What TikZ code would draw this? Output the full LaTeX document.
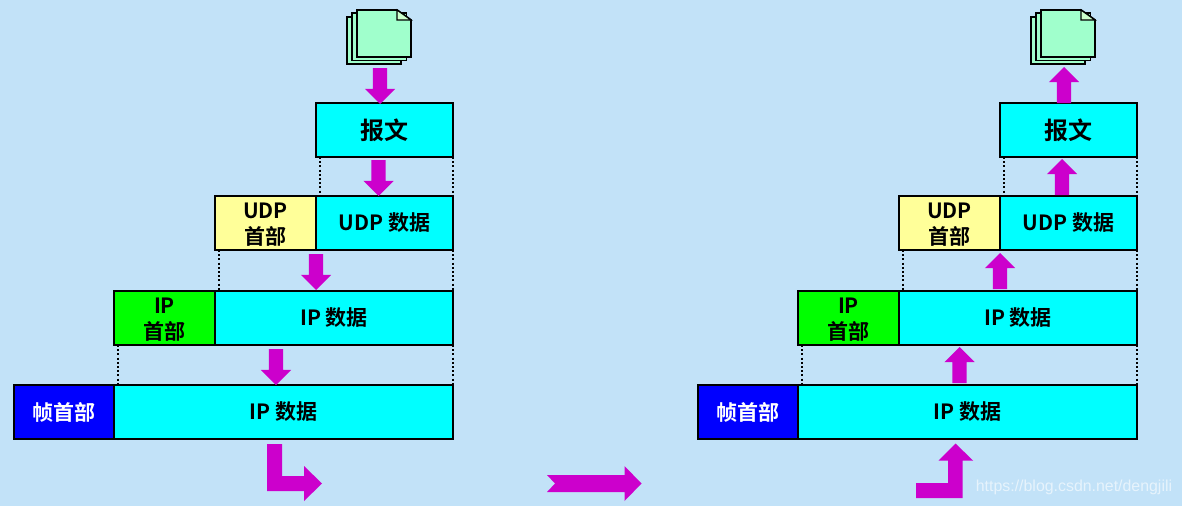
\documentclass[tikz,border=0pt]{standalone}
\usepackage{fontspec}
\setmainfont{Noto Sans CJK SC}[BoldFont={* Bold}]
\usetikzlibrary{shapes.arrows}
\definecolor{sky}{HTML}{C2E2F8}
\definecolor{pipe}{HTML}{CC00CC}
\definecolor{sheet}{HTML}{A0FFCC}
\definecolor{foldc}{HTML}{CCFFCC}
\definecolor{udpc}{HTML}{FFFF99}
\definecolor{aqua}{HTML}{00FFFF}
\tikzset{
  cell/.style={draw=black, line width=2pt, outer sep=0pt, inner sep=0pt, anchor=north west, align=center, font=\fontsize{21}{25}\selectfont\bfseries},
  data/.style={cell, fill=aqua},
  guide/.style={line width=2pt, dash pattern=on 2pt off 2.2pt},
  flow/.style={shape=single arrow, fill=pipe, inner xsep=0pt, inner ysep=7pt, outer sep=0pt, anchor=tip, minimum height=36pt, single arrow head extend=8pt},
  page/.style={draw=black, line width=1.8pt, fill=sheet, line join=miter},
}
\begin{document}
\begin{tikzpicture}[x=1pt,y=-1pt]
\useasboundingbox (0,0) rectangle (1182,506);
\fill[sky] (0,0) rectangle (1182,506);

% the two protocol stacks, same layout on each side
\foreach \s/\dx in {l/0,r/684}
    {
    \begin{scope}[xshift=\dx pt]
    \draw[page] (347,17) rectangle (401,64);
    \draw[page] (352,13) rectangle (406.5,60.5);
    \draw[page] (357,10) -- (397,10) -- (411,20) -- (411,57) -- (357,57) -- cycle;
    \draw[page, fill=foldc, line width=1.2pt] (397,10) -- (397,20) -- (411,20) -- cycle;

    \node (msg\s) at (316,103) [data, minimum width=137pt, minimum height=54pt, font=\fontsize{24}{28}\selectfont\bfseries] {报文};
    \node (udphead\s) at (215,196) [cell, fill=udpc, minimum width=101pt, minimum height=54pt] {\rule{0pt}{18pt}UDP\\[1pt]首部};
    \node (udpdata\s) at (316,196) [data, minimum width=137pt, minimum height=54pt] {UDP 数据};
    \node (iphead\s) at (114,291) [cell, fill=green, minimum width=101pt, minimum height=54pt] {\rule{0pt}{18pt}IP\\[1pt]首部};
    \node (ipdata\s) at (215,291) [data, minimum width=238pt, minimum height=54pt] {IP 数据};
    \node (framehead\s) at (14,385) [cell, fill=blue, text=white, minimum width=100pt, minimum height=54pt] {帧首部};
    \node (framedata\s) at (114,385) [data, minimum width=339pt, minimum height=54pt] {IP 数据};

    \draw[guide] ([xshift=4pt]msg\s.south west) -- ([xshift=4pt]udpdata\s.north west);
    \draw[guide] (msg\s.south east) -- (udpdata\s.north east);
    \draw[guide] ([xshift=4pt]udphead\s.south west) -- ([xshift=4pt]ipdata\s.north west);
    \draw[guide] (udpdata\s.south east) -- (ipdata\s.north east);
    \draw[guide] ([xshift=4pt]iphead\s.south west) -- ([xshift=4pt]framedata\s.north west);
    \draw[guide] (ipdata\s.south east) -- (framedata\s.north east);
    \end{scope}
    }

% going down on the sender
\foreach \n/\tx/\ty in {a/380/104,b/378.5/196,c/316/290,d/276/385}
    \node (down\n) at (\tx,\ty) [flow, rotate=-90] {};

% going up on the receiver
\foreach \n/\tx/\ty in {a/1064/67,b/1062/159,c/1000/253,d/959.5/347}
    \node (up\n) at (\tx,\ty) [flow, rotate=90] {};

% bent arrows and the link between the hosts
\fill[pipe] (267,444) -- (282,444) -- (282,476) -- (304,476) -- (304,466) -- (322,483.5) -- (304,501) -- (304,491) -- (267,491) -- cycle;
\fill[pipe] (547,475) -- (624.5,475) -- (624.5,466) -- (641.5,483.5) -- (624.5,501) -- (624.5,492) -- (547,492) -- (555,483.5) -- cycle;
\fill[pipe] (916,498) -- (962.5,498) -- (962.5,460.5) -- (973,460.5) -- (955.5,443.5) -- (938.5,460.5) -- (948,460.5) -- (948,483) -- (916,483) -- cycle;

\node (mark) at (1074,487) [text=white, opacity=.6, font=\fontspec{Liberation Sans}\fontsize{15.9}{18}\selectfont, inner sep=0pt] {https://blog.csdn.net/dengjili};
\end{tikzpicture}
\end{document}
